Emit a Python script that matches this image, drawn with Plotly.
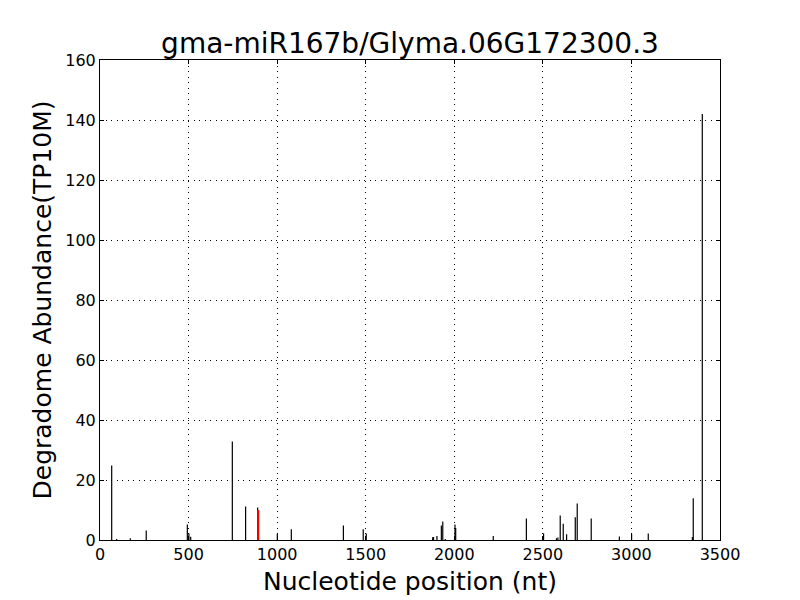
'''
    Degradome abundance (t-plot) for gma-miR167b / Glyma.06G172300.3
'''

import plotly.graph_objects as go

# positions (nt) and abundance (TP10M) of the degradome tags
positions = [66, 94, 171, 261, 493, 502, 512, 747, 822, 890, 1001, 1080,
             1374, 1486, 1503, 1878, 1883, 1902, 1927, 1935, 1949, 2004, 2008,
             2220, 2407, 2504, 2577, 2585, 2598, 2615, 2634, 2683, 2694, 2773,
             2932, 3001, 3095, 3344, 3349, 3400]
abundance = [24.8, 0.3, 0.6, 3.2, 5.2, 2.2, 1.1, 32.8, 11.2, 10.8, 2.1, 3.6,
             4.8, 3.6, 2.2, 0.9, 1.0, 1.3, 4.8, 6.2, 0.3, 5.2, 4.0,
             1.3, 7.2, 2.2, 0.6, 0.8, 8.2, 5.4, 1.9, 7.6, 12.2, 7.2,
             1.2, 2.1, 2.2, 1.0, 13.9, 142.0]

# the miRNA cleavage site
target_pos = [893]
target_abund = [10.0]

x_ticks = [0, 500, 1000, 1500, 2000, 2500, 3000, 3500]
y_ticks = [0, 20, 40, 60, 80, 100, 120, 140, 160]


def stems(xs, ys):
    '''Build x/y lists for vertical lines from 0 up to each value.'''
    sx, sy = [], []
    for x, y in zip(xs, ys):
        sx += [x, x, None]
        sy += [0, y, None]
    return sx, sy


fig = go.Figure()

bx, by = stems(positions, abundance)
fig.add_trace(go.Scatter(x=bx, y=by, mode='lines',
                         line=dict(color='black', width=1.2),
                         showlegend=False, hoverinfo='skip'))

rx, ry = stems(target_pos, target_abund)
fig.add_trace(go.Scatter(x=rx, y=ry, mode='lines',
                         line=dict(color='red', width=2.2),
                         showlegend=False, hoverinfo='skip'))

axis_style = dict(showline=True, linecolor='black', linewidth=1,
                  mirror='ticks', ticks='inside', ticklen=4,
                  tickcolor='black', showgrid=True, gridcolor='black',
                  gridwidth=1, griddash='1px,4.5px', zeroline=False,
                  automargin=False,
                  tickfont=dict(size=16, color='black'))

fig.update_xaxes(range=[0, 3500], tickvals=x_ticks,
                 title=dict(text='Nucleotide position (nt)',
                            font=dict(size=25, color='black'), standoff=9),
                 **axis_style)
fig.update_yaxes(range=[0, 160], tickvals=y_ticks,
                 title=dict(text='Degradome Abundance(TP10M)',
                            font=dict(size=25, color='black'), standoff=6),
                 **axis_style)

# the page body adds 8px, so the margins are shifted to match
fig.update_layout(width=800, height=600,
                  font=dict(family='DejaVu Sans', color='black'),
                  title=dict(text='gma-miR167b/Glyma.06G172300.3',
                             font=dict(size=28, color='black'),
                             xref='paper', x=0.5, xanchor='center',
                             y=0.942, yanchor='middle'),
                  margin=dict(l=92, r=88, t=52, b=68),
                  plot_bgcolor='white', paper_bgcolor='white')

fig.write_html("out.html")
